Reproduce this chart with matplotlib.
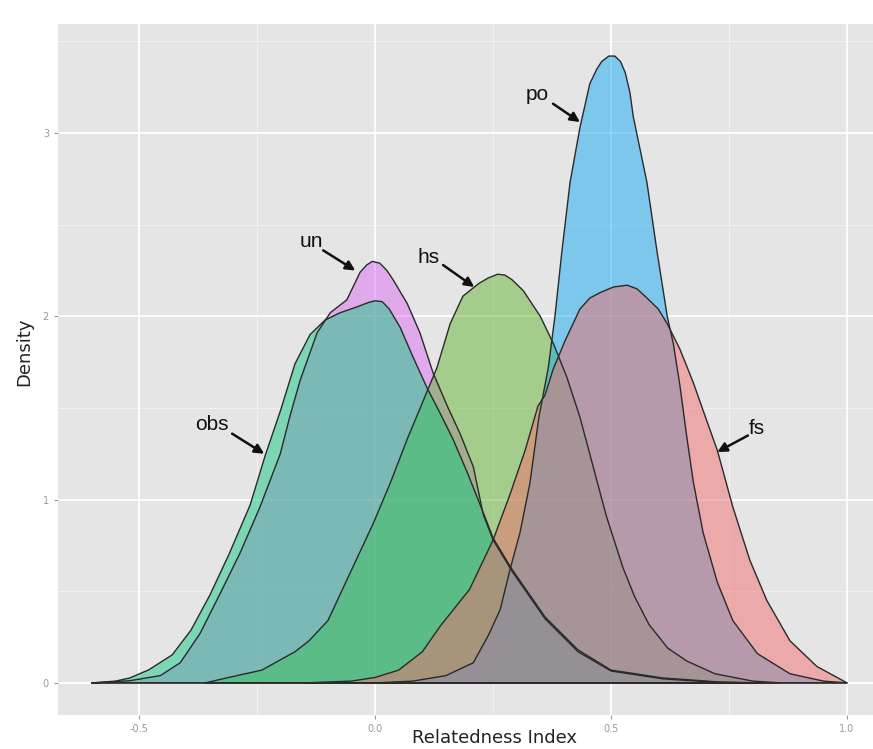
import matplotlib
matplotlib.use("Agg")
import matplotlib.pyplot as plt

# density curves (x = relatedness, y = density)
fs_x = [-0.15, -0.05, 0.0, 0.05, 0.10, 0.138, 0.20, 0.25, 0.286, 0.318, 0.345, 0.36, 0.377, 0.403, 0.434,
        0.455, 0.477, 0.505, 0.534, 0.555, 0.576, 0.60, 0.619, 0.646, 0.674, 0.70, 0.725, 0.758, 0.794,
        0.83, 0.879, 0.936, 1.0]
fs_y = [0.0, 0.01, 0.03, 0.07, 0.17, 0.31, 0.51, 0.78, 1.03, 1.27, 1.51, 1.57, 1.71, 1.87, 2.04,
        2.10, 2.13, 2.16, 2.17, 2.15, 2.10, 2.04, 1.96, 1.82, 1.64, 1.45, 1.27, 0.96, 0.67,
        0.45, 0.23, 0.09, 0.0]

hs_x = [-0.36, -0.31, -0.24, -0.17, -0.14, -0.10, -0.053, -0.004, 0.032, 0.068, 0.102, 0.131, 0.159, 0.186,
        0.22, 0.24, 0.26, 0.275, 0.29, 0.314, 0.35, 0.378, 0.406, 0.434, 0.462, 0.49, 0.525, 0.55, 0.58,
        0.62, 0.66, 0.72, 0.80, 0.86]
hs_y = [0.0, 0.03, 0.07, 0.17, 0.23, 0.34, 0.60, 0.87, 1.09, 1.33, 1.54, 1.72, 1.96, 2.11,
        2.18, 2.21, 2.23, 2.225, 2.20, 2.14, 2.00, 1.85, 1.67, 1.45, 1.18, 0.91, 0.63, 0.47, 0.32,
        0.19, 0.12, 0.05, 0.01, 0.0]

obs_x = [-0.60, -0.55, -0.52, -0.48, -0.43, -0.39, -0.35, -0.31, -0.265, -0.233, -0.20, -0.17, -0.138,
         -0.106, -0.074, -0.04, -0.015, 0.0, 0.015, 0.03, 0.053, 0.08, 0.11, 0.138, 0.165, 0.195, 0.229,
         0.25, 0.29, 0.36, 0.43, 0.50, 0.61, 0.73, 0.82]
obs_y = [0.0, 0.01, 0.027, 0.071, 0.153, 0.289, 0.48, 0.70, 0.97, 1.24, 1.49, 1.74, 1.90,
         1.98, 2.02, 2.05, 2.075, 2.085, 2.08, 2.04, 1.94, 1.78, 1.61, 1.47, 1.33, 1.15, 0.93,
         0.79, 0.62, 0.36, 0.18, 0.07, 0.027, 0.005, 0.0]

po_x = [0.0, 0.08, 0.15, 0.208, 0.24, 0.265, 0.286, 0.307, 0.328, 0.347, 0.367, 0.381, 0.396, 0.413, 0.434,
        0.455, 0.47, 0.48, 0.495, 0.508, 0.52, 0.53, 0.54, 0.547, 0.576, 0.597, 0.619, 0.632, 0.646, 0.66,
        0.674, 0.695, 0.725, 0.758, 0.81, 0.879, 0.95, 1.0]
po_y = [0.0, 0.01, 0.04, 0.11, 0.26, 0.40, 0.62, 0.82, 1.09, 1.45, 1.72, 2.0, 2.36, 2.73, 3.03,
        3.27, 3.35, 3.39, 3.42, 3.42, 3.39, 3.33, 3.22, 3.09, 2.73, 2.36, 2.0, 1.85, 1.62, 1.35,
        1.10, 0.82, 0.55, 0.34, 0.16, 0.05, 0.01, 0.0]

un_x = [-0.60, -0.52, -0.455, -0.413, -0.371, -0.328, -0.286, -0.244, -0.201, -0.18, -0.159, -0.123,
        -0.095, -0.06, -0.045, -0.032, -0.018, -0.006, 0.01, 0.025, 0.038, 0.068, 0.095, 0.123, 0.153,
        0.18, 0.208, 0.229, 0.25, 0.29, 0.36, 0.43, 0.50, 0.61, 0.72, 0.80]
un_y = [0.0, 0.012, 0.04, 0.11, 0.27, 0.49, 0.71, 0.96, 1.25, 1.46, 1.65, 1.91,
        2.02, 2.09, 2.17, 2.24, 2.28, 2.30, 2.29, 2.25, 2.20, 2.07, 1.91, 1.69, 1.51,
        1.36, 1.18, 0.92, 0.78, 0.61, 0.35, 0.17, 0.065, 0.022, 0.004, 0.0]

# drawing order as it appears in the picture (later ones sit on top)
groups = ["un", "hs", "obs", "po", "fs"]
colors = {"un": "#DD6FF1", "hs": "#65B533", "obs": "#15C983", "po": "#15ABF1", "fs": "#F16F6F"}
curves = {"fs": (fs_x, fs_y), "hs": (hs_x, hs_y), "obs": (obs_x, obs_y),
          "po": (po_x, po_y), "un": (un_x, un_y)}

# label text position, arrow tail, arrow head (data coords)
labels = {
    "po":  ((0.343, 3.21), (0.377, 3.16), (0.434, 3.06)),
    "un":  ((-0.136, 2.41), (-0.110, 2.36), (-0.042, 2.25)),
    "hs":  ((0.114, 2.32), (0.144, 2.28), (0.210, 2.16)),
    "obs": ((-0.345, 1.41), (-0.303, 1.36), (-0.235, 1.25)),
    "fs":  ((0.809, 1.39), (0.790, 1.35), (0.725, 1.26)),
}

fig = plt.figure(figsize=(8.73, 7.49), dpi=100)
ax = fig.add_axes([58 / 873, 34 / 749, 815 / 873, 691 / 749])
ax.set_facecolor("#E5E5E5")
for s in ax.spines.values():
    s.set_visible(False)

ax.set_xlim(-0.672, 1.055)
ax.set_ylim(-0.175, 3.595)

# grid like ggplot
for v in [-0.25, 0.25, 0.75]:
    ax.axvline(v, color="#F2F2F2", lw=0.7, zorder=0)
for v in [0.5, 1.5, 2.5, 3.5]:
    ax.axhline(v, color="#F2F2F2", lw=0.7, zorder=0)
for v in [-0.5, 0.0, 0.5, 1.0]:
    ax.axvline(v, color="white", lw=1.3, zorder=0)
for v in [0, 1, 2, 3]:
    ax.axhline(v, color="white", lw=1.3, zorder=0)

for g in groups:
    x, y = curves[g]
    xs = list(x) + [x[-1], x[0]]
    ys = list(y) + [0, 0]
    ax.fill(xs, ys, facecolor=colors[g], alpha=0.5, edgecolor="none", zorder=2)
    ax.plot(xs + [x[0]], ys + [y[0]], color="#2a2a2a", lw=1.0, zorder=3)

for name, (tpos, tail, head) in labels.items():
    ax.text(tpos[0], tpos[1], name, fontsize=15, ha="center", va="center",
            family="Liberation Sans", color="#111111", zorder=5)
    ax.annotate("", xy=head, xytext=tail,
                arrowprops=dict(arrowstyle="-|>", color="#111111", lw=1.8,
                                mutation_scale=14, shrinkA=0, shrinkB=0), zorder=5)

ax.set_xticks([-0.5, 0.0, 0.5, 1.0])
ax.set_xticklabels(["-0.5", "0.0", "0.5", "1.0"])
ax.set_yticks([0, 1, 2, 3])
ax.tick_params(colors="#999999", labelsize=7, length=3, width=0.8)

ax.set_xlabel("Relatedness Index", fontsize=13, color="#222222")
ax.set_ylabel("Density", fontsize=13, color="#222222")
ax.xaxis.set_label_coords(0.536, -0.02)
ax.yaxis.set_label_coords(-0.03, 0.525)

plt.savefig("out.png", dpi=100)
